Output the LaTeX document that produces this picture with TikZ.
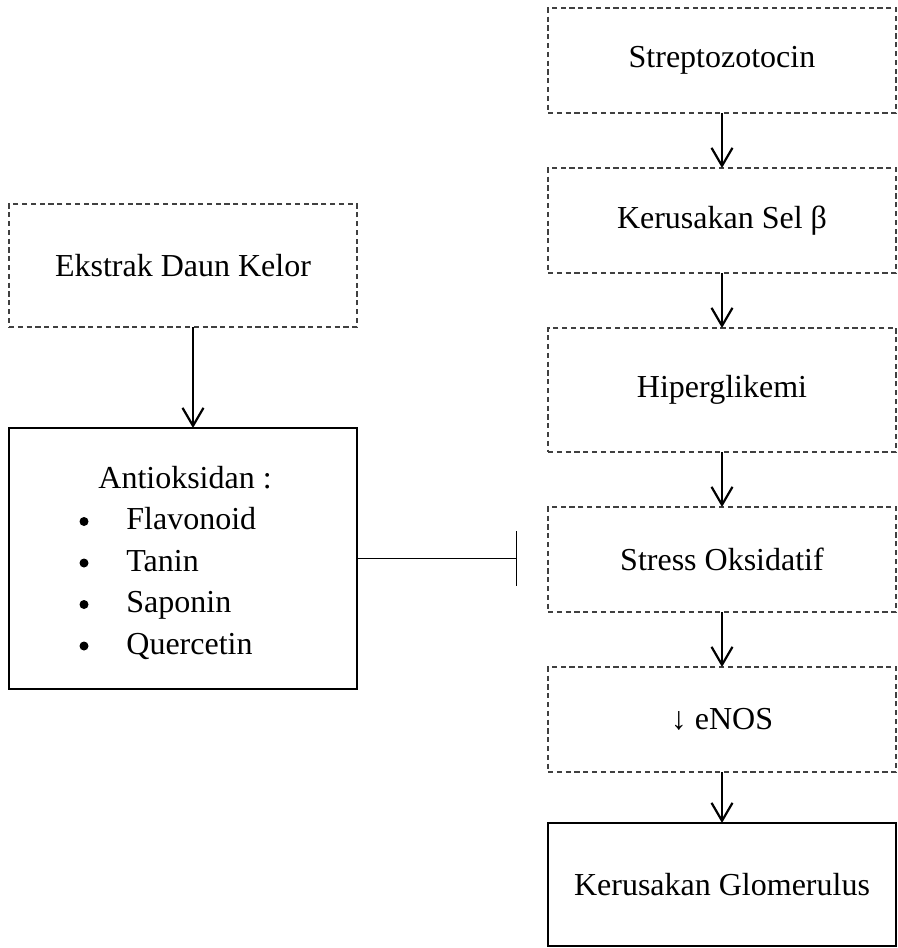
\documentclass[tikz,border=0pt]{standalone}
\usepackage{fontspec}
\setmainfont{Liberation Serif}
\usetikzlibrary{arrows.meta}
\begin{document}
\begin{tikzpicture}[x=.5pt,y=-.5pt,font=\fontsize{16}{20.75}\selectfont,
 box/.style={draw,inner sep=0pt,outer sep=0pt,minimum width=174pt,minimum height=52.5pt},
 dbox/.style={box,draw=black!75,line width=.7pt,dash pattern=on 2.6pt off 1.8pt},
 arr/.style={line width=1.1pt,-{Straight Barb[length=9pt,width=10.5pt,line width=1.1pt]}}]
\useasboundingbox(0,0)rectangle(898,948);
% right column
\node[dbox](strep)at(722,60.5){Streptozotocin};
\node[dbox](sel)at(722,220.5){Kerusakan Sel β};
\node[dbox,minimum height=62pt](hiper)at(722,390){Hiperglikemi};
\node[dbox](stress)at(722,559.5){Stress Oksidatif};
\node[dbox](enos)at(722,719.5){↓ eNOS};
\node[box,line width=1pt,minimum height=61.5pt](glom)at(722,884.5){Kerusakan Glomerulus};
\draw[arr](strep)--(sel);\draw[arr](sel)--(hiper);\draw[arr](hiper)--(stress);
\draw[arr](stress)--(enos);\draw[arr](enos)--(glom);
% left column
\node[dbox,minimum height=61.5pt](ekstrak)at(183,265.5){Ekstrak Daun Kelor};
\node[box,line width=.6pt,minimum height=130.5pt](anti)at(183,558.5){};
\node[anchor=base west,inner sep=0pt](antihead)at(98,488){Antioksidan :};
\foreach \t[count=\i] in {Flavonoid,Tanin,Saponin,Quercetin}{
 \node[circle,fill,inner sep=0pt,minimum size=4.5pt](dot\i)at(84,480+41.5*\i){};
 \node[anchor=base west,inner sep=0pt](item\i)at(126,488+41.5*\i){\t};}
\draw[arr]([xshift=5pt]ekstrak.south)--([xshift=5pt]anti.north);
% inhibition
\coordinate(inh)at(517,558.5);
\draw[line width=.6pt,-{Bar[width=27.5pt,line width=.6pt]}](anti)--(inh);
\end{tikzpicture}
\end{document}
